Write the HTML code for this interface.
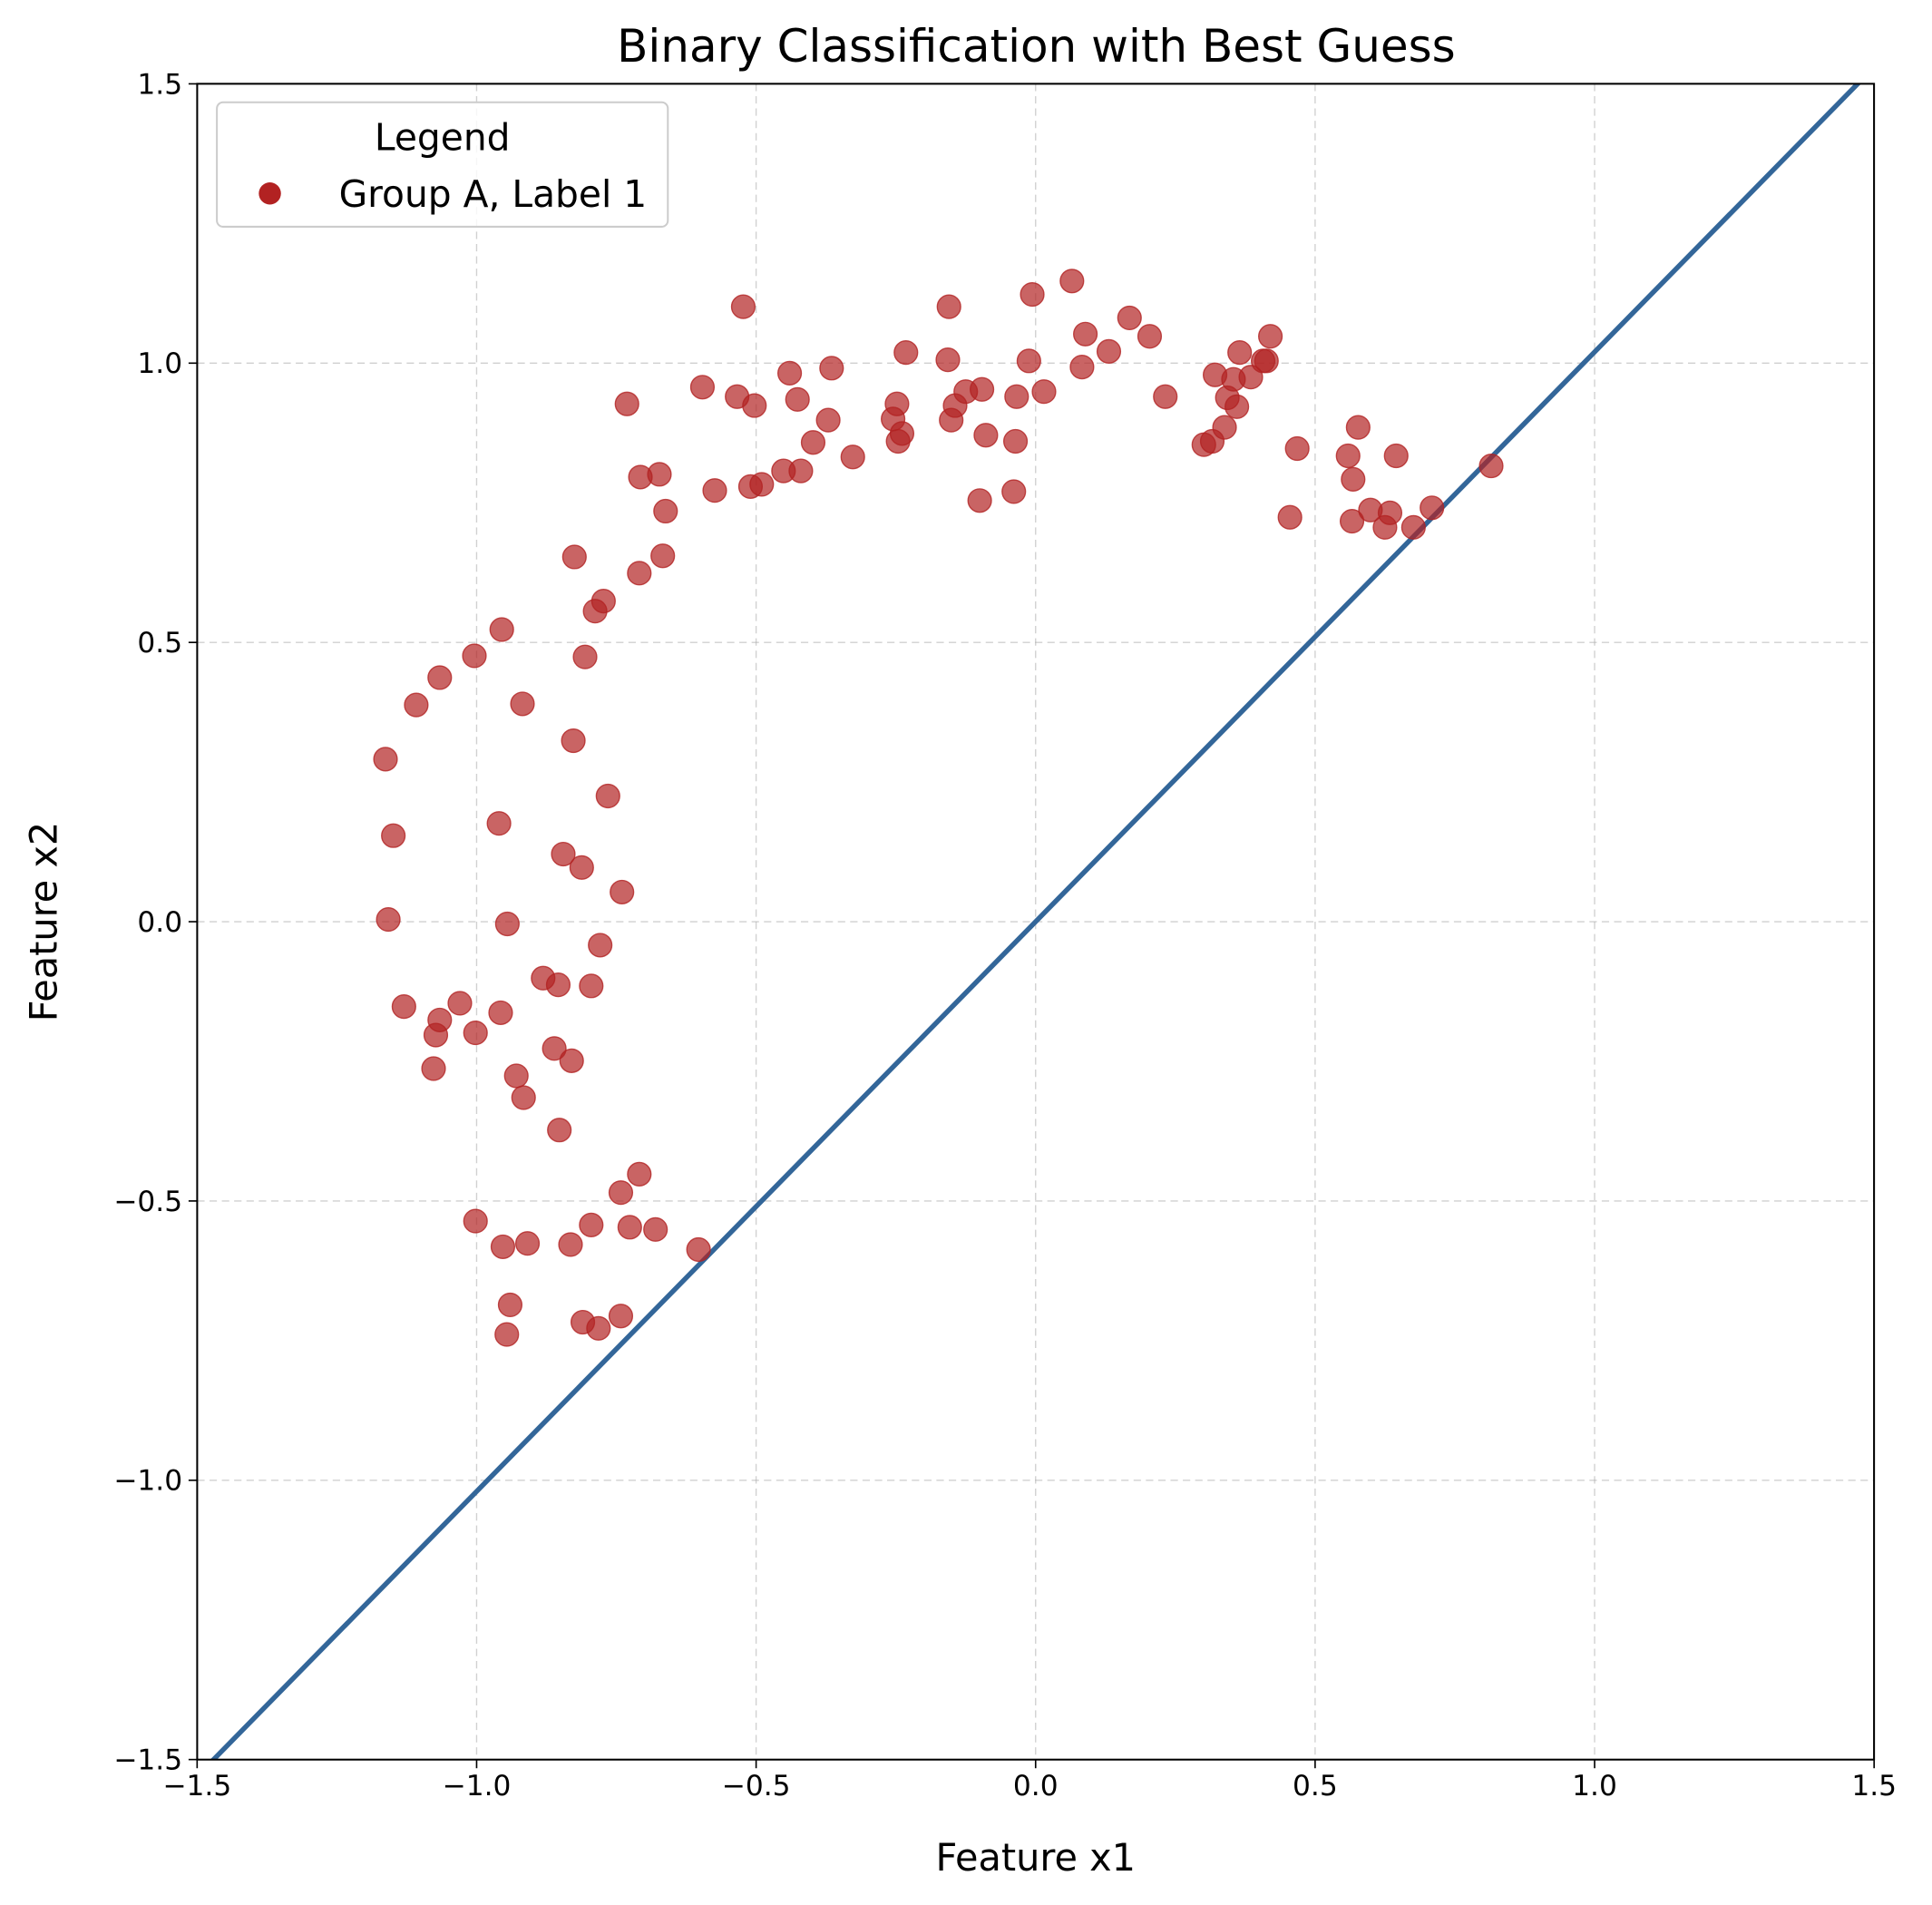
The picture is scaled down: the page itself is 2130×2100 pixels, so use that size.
<!DOCTYPE html>
<html><head><meta charset="utf-8"><style>html,body{margin:0;padding:0;background:#fff}svg{display:block}</style></head>
<body>
<svg id="chart" width="2130" height="2100" viewBox="0 0 1568 1546" xmlns="http://www.w3.org/2000/svg" font-family="'DejaVu Sans','Liberation Sans',sans-serif">
<rect width="1568" height="1546" fill="#fff"/>
<g id="grid"></g>
<g id="line"></g>
<g id="points"></g>
<rect x="160" y="68" width="1361" height="1360" fill="none" stroke="#000" stroke-width="1.5"/>
<g id="ticks" font-size="23" fill="#000"></g>
<text x="841" y="50" text-anchor="middle" font-size="36.8">Binary Classification with Best Guess</text>
<text x="840.5" y="1518" text-anchor="middle" font-size="30.5">Feature x1</text>
<text transform="translate(46,748) rotate(-90)" text-anchor="middle" font-size="30.5">Feature x2</text>
<g>
<rect x="176" y="83" width="366" height="101" rx="5" fill="#fff" fill-opacity="0.8" stroke="#ccc" stroke-width="1.5"/>
<text x="359" y="122" text-anchor="middle" font-size="30">Legend</text>
<circle cx="219" cy="157" r="9" fill="#b22222"/>
<text x="275" y="168" font-size="30">Group A, Label 1</text>
</g>
</svg>
<script>
const xs=[-1.163,-1.149,-1.158,-1.130,-1.108,-1.066,-1.004,-0.955,-0.918,-0.825,-0.806,-0.788,-0.773,-0.827,-0.765,-0.960,-0.845,-0.812,-0.740,-0.945,-0.779,-0.881,-0.854,-0.795,-1.030,-1.066,-1.073,-0.957,-1.002,-1.077,-0.861,-0.830,-0.929,-0.916,-0.852,-0.709,-0.742,-1.002,-0.953,-0.909,-0.832,-0.795,-0.726,-0.680,-0.603,-0.940,-0.946,-0.810,-0.782,-0.742,
-0.731,-0.707,-0.673,-0.662,-0.667,-0.709,-0.596,-0.574,-0.534,-0.523,-0.503,-0.510,-0.490,-0.451,-0.440,-0.426,-0.420,-0.398,-0.371,-0.365,-0.327,-0.255,-0.248,-0.246,-0.239,-0.232,-0.157,-0.155,-0.151,-0.144,-0.125,-0.100,-0.096,-0.089,-0.036,-0.034,-0.039,-0.012,-0.006,0.015,0.065,0.083,0.089,0.131,0.168,0.204,0.232,0.301,0.316,0.321,0.338,0.343,0.354,0.360,0.365,0.385,0.407,0.413,0.420,0.455,0.468,0.559,0.568,0.566,0.577,0.599,0.625,0.634,0.645,0.676,0.709,0.815];
const ys=[0.291,0.154,0.004,-0.152,0.388,0.437,0.476,0.523,0.390,0.653,0.474,0.556,0.574,0.324,0.225,0.176,0.121,0.097,0.053,-0.004,-0.042,-0.101,-0.113,-0.115,-0.146,-0.176,-0.203,-0.163,-0.199,-0.263,-0.227,-0.249,-0.276,-0.315,-0.373,-0.452,-0.485,-0.536,-0.582,-0.576,-0.578,-0.543,-0.547,-0.551,-0.587,-0.686,-0.739,-0.717,-0.728,-0.706,
0.927,0.796,0.801,0.735,0.655,0.624,0.957,0.772,0.940,1.101,0.924,0.779,0.783,0.807,0.982,0.935,0.807,0.858,0.898,0.991,0.832,0.900,0.927,0.860,0.874,1.019,1.006,1.101,0.898,0.924,0.949,0.754,0.953,0.871,0.860,0.940,0.770,1.004,1.123,0.949,1.147,0.993,1.052,1.021,1.081,1.048,0.940,0.854,0.860,0.979,0.885,0.938,0.971,0.922,1.019,0.975,1.004,1.004,1.048,0.724,0.847,0.834,0.792,0.717,0.885,0.737,0.706,0.732,0.834,0.706,0.741,0.816];
const xTicks=[-1.5,-1.0,-0.5,0.0,0.5,1.0,1.5];
const yTicks=[-1.5,-1.0,-0.5,0.0,0.5,1.0,1.5];
const lineSlope=[1.02];
const lineX=[-1.5,1.5];
const NS='http://www.w3.org/2000/svg';
const X=v=>840.5+v*453.7, Y=v=>748-v*453.3;
function mk(t,a,p){const e=document.createElementNS(NS,t);for(const k in a)e.setAttribute(k,a[k]);p.appendChild(e);return e;}
const g=document.getElementById('grid'),tk=document.getElementById('ticks');
const fmt=v=>(v<0?'\u2212':'')+Math.abs(v).toFixed(1);
xTicks.forEach(v=>{
 const l=mk('line',{x1:X(v),x2:X(v),y1:68,y2:1428,stroke:'#b0b0b0','stroke-opacity':0.6,'stroke-dasharray':'6,4'},g);
 
 
 const t=mk('line',{x1:X(v),x2:X(v),y1:1428,y2:1435,stroke:'#000','stroke-width':1.2},tk);
 
 
 const s=mk('text',{x:X(v),y:1457,'text-anchor':'middle'},tk);s.textContent=fmt(v);
 
 
});
yTicks.forEach(v=>{
 const l=mk('line',{x1:160,x2:1521,y1:Y(v),y2:Y(v),stroke:'#b0b0b0','stroke-opacity':0.6,'stroke-dasharray':'6,4'},g);
 
 
 const t=mk('line',{x1:153,x2:160,y1:Y(v),y2:Y(v),stroke:'#000','stroke-width':1.2},tk);
 
 
 const s=mk('text',{x:148,y:Y(v)+8,'text-anchor':'end'},tk);s.textContent=fmt(v);
 
 
});
const lg=document.getElementById('line');
const clip=mk('clipPath',{id:'pc'},lg);mk('rect',{x:160,y:68,width:1361,height:1360},clip);
const bl=mk('line',{x1:X(lineX[0]),y1:Y(lineX[0]*lineSlope[0]),x2:X(lineX[1]),y2:Y(lineX[1]*lineSlope[0]),stroke:'#336699','stroke-width':4,'clip-path':'url(#pc)'},lg);


const pg=document.getElementById('points');
xs.forEach((x,i)=>{
 const c=mk('circle',{cx:X(x),cy:Y(ys[i]),r:9.5,fill:'#b22222','fill-opacity':0.7,stroke:'#b22222','stroke-opacity':0.8,'stroke-width':1},pg);
 
 
});
</script>
</body></html>
